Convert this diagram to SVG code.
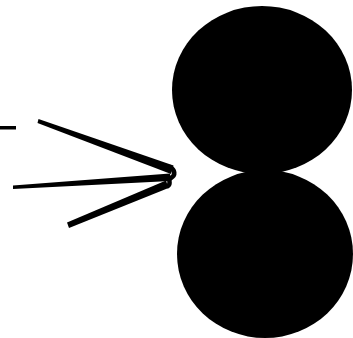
<svg xmlns="http://www.w3.org/2000/svg" width="353" height="338" viewBox="0 0 353 338">
<style>.ink{fill:#000;stroke:none}.st{fill:none;stroke:#000;stroke-linecap:round;stroke-linejoin:round}</style>
<rect width="353" height="338" fill="#fff"/>
<g id="circles">
<ellipse class="ink" cx="265" cy="254" rx="88" ry="84"/>
<ellipse class="ink" cx="262" cy="90" rx="90" ry="84"/>
</g>
<g id="strokes">
<rect class="ink" x="0" y="126" width="16" height="3.5"/>
<polygon class="ink" points="38.5,119 173.5,165.5 171,174 37.5,123"/>
<polygon class="ink" points="13,185.5 170,173.5 170.5,181 13,189"/>
<polygon class="ink" points="67,222.5 166,180.5 168.5,188 69,228"/>
<path class="st" stroke-width="4.5" d="M170,167 C175,170 176,175 171,178 C167,180 172,183 168,186"/>
</g>
</svg>
